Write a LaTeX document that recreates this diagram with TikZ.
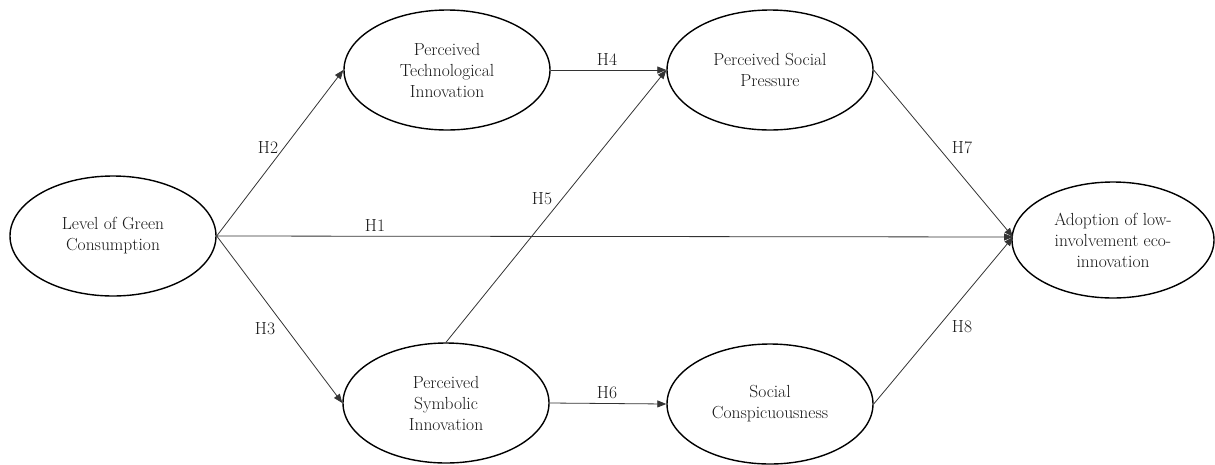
\documentclass[tikz,border=0pt]{standalone}
\usetikzlibrary{shapes.geometric,arrows.meta}
\begin{document}
\begin{tikzpicture}[x=1pt,y=-1pt,
  construct/.style={ellipse,draw=black,line width=1.4pt,minimum width=206pt,minimum height=120pt,inner sep=0pt,align=center,font=\fontsize{17.5}{21}\selectfont,text=black!90},
  path/.style={draw=black!80,line width=0.8pt,-{Triangle[length=9pt,width=7pt]}},
  hlab/.style={font=\fontsize{17.5}{21}\selectfont,text=black!90,inner sep=0pt}]
\useasboundingbox (0,0) rectangle (1215,464);
\node[construct] (lgc) at (113,236) {Level of Green\\Consumption};
\node[construct] (pti) at (447,70) {Perceived\\Technological\\Innovation};
\node[construct] (psp) at (770,70) {Perceived Social\\Pressure};
\node[construct] (psi) at (446,403) {Perceived\\Symbolic\\Innovation};
\node[construct] (sc) at (770,404) {Social\\Conspicuousness};
\node[construct,minimum width=202pt,minimum height=116pt] (ado) at (1113,240) {Adoption of low-\\involvement eco-\\innovation};
\coordinate (adoin) at (1013,237);
\draw[path] (lgc.east) -- (pti.west);
\draw[path] (lgc.east) -- (psi.west);
\draw[path] (lgc.east) -- (adoin);
\draw[path] (pti.east) -- (psp.west);
\draw[path] (psi.north) -- (psp.west);
\draw[path] (psi.east) -- (sc.west);
\draw[path] (psp.east) -- (adoin);
\draw[path] (sc.east) -- (adoin);
\node[hlab] (h1) at (375,226) {H1};
\node[hlab] (h2) at (268,148) {H2};
\node[hlab] (h3) at (265,329) {H3};
\node[hlab] (h4) at (607,60) {H4};
\node[hlab] (h5) at (542,199) {H5};
\node[hlab] (h6) at (607,393) {H6};
\node[hlab] (h7) at (962,148) {H7};
\node[hlab] (h8) at (962,327) {H8};
\end{tikzpicture}
\end{document}
